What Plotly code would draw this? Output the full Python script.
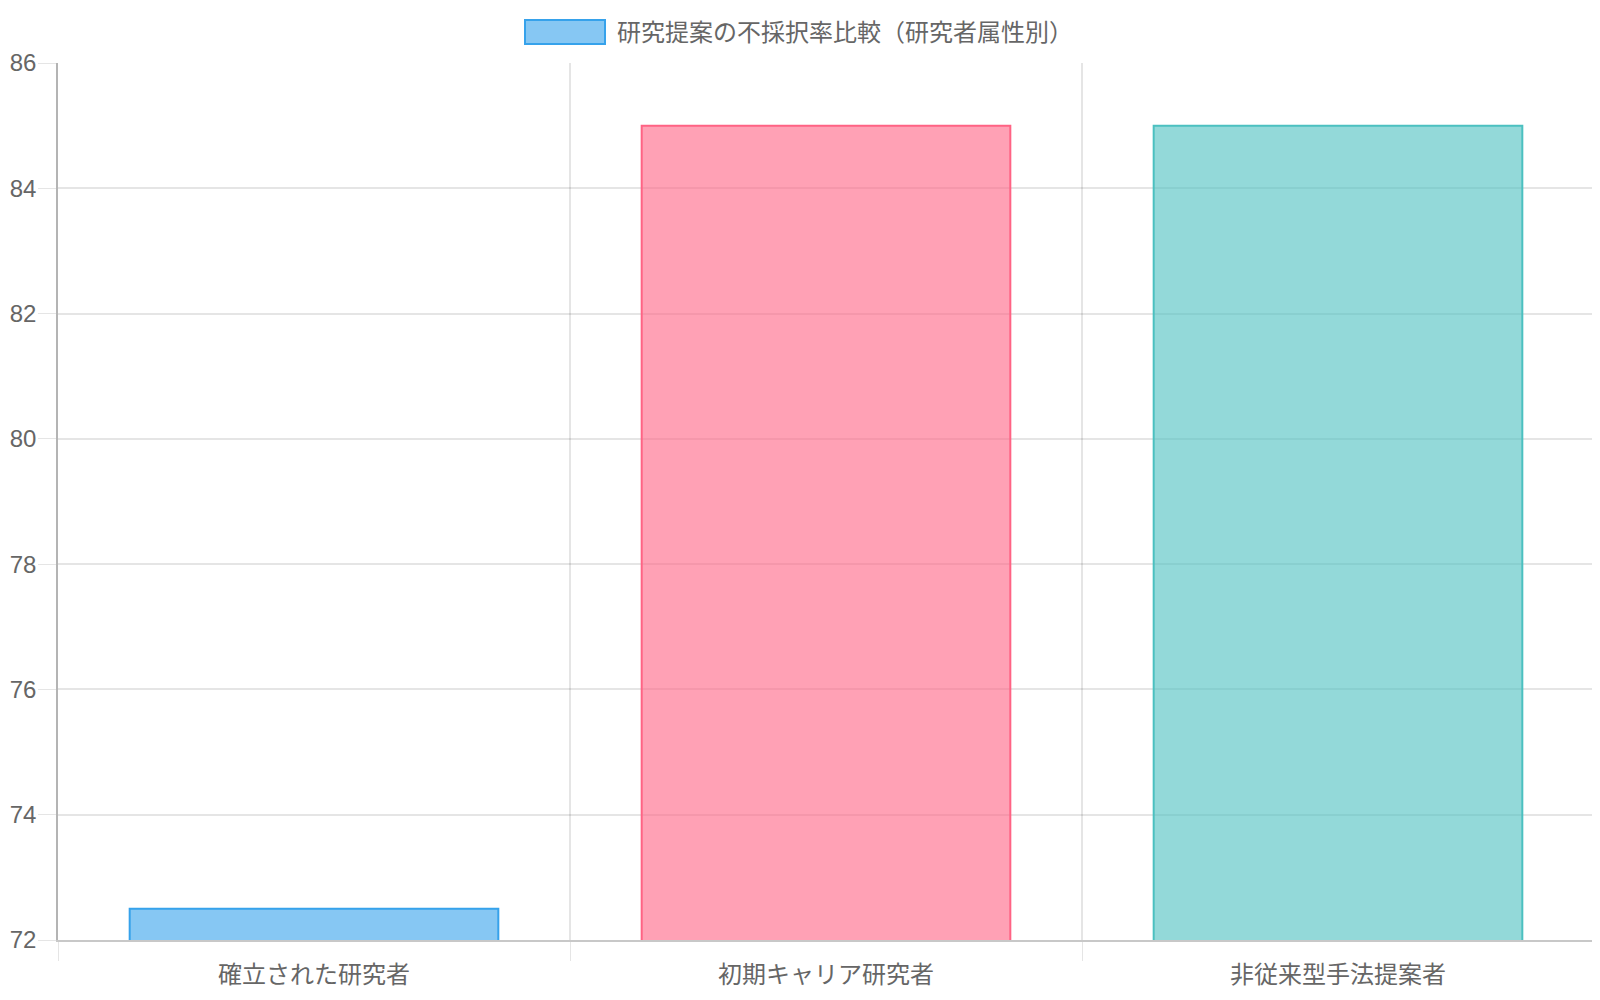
import plotly.graph_objects as go

categories = ["確立された研究者", "初期キャリア研究者", "非従来型手法提案者"]
rejection_rates = [72.5, 85, 85]
series_name = "研究提案の不採択率比較（研究者属性別）"
fill_colors = ["rgba(54,162,235,0.6)", "rgba(255,99,132,0.6)", "rgba(75,192,192,0.6)"]
line_colors = ["rgb(54,162,235)", "rgb(255,99,132)", "rgb(75,192,192)"]
y_ticks = [72, 74, 76, 78, 80, 82, 84, 86]

FONT = "Liberation Sans, Noto Sans CJK JP, sans-serif"
GRID = "rgba(0,0,0,0.1)"

# plot area in figure pixels (page body adds an 8px offset)
L, R, T, B = 50, 14, 55, 68
PW, PH = 1600 - L - R, 1000 - T - B

fig = go.Figure(
    go.Bar(
        x=categories,
        y=rejection_rates,
        base=0,
        width=0.72,
        marker=dict(color=fill_colors, line=dict(color=line_colors, width=2)),
        name=series_name,
        showlegend=False,
    )
)

# chart.js style legend: wide colour box + label above the plot
fig.add_shape(
    type="rect", xref="paper", yref="paper",
    x0=(517 - L) / PW, x1=(597 - L) / PW,
    y0=1 + (T - 36) / PH, y1=1 + (T - 12) / PH,
    fillcolor=fill_colors[0], line=dict(color=line_colors[0], width=2),
)
fig.add_annotation(
    text=series_name, xref="paper", yref="paper",
    x=(607 - L) / PW, y=1 + (T - 24) / PH,
    xanchor="left", yanchor="middle", showarrow=False,
    font=dict(family=FONT, size=24, color="#666"),
)

fig.update_layout(
    width=1600,
    height=1000,
    margin=dict(l=L, r=R, t=T, b=B),
    plot_bgcolor="white",
    paper_bgcolor="white",
    font=dict(family=FONT, size=24, color="#666"),
    bargap=0.28,
)
fig.update_xaxes(
    range=[-0.5, 2.5],
    automargin=False,
    tickson="boundaries",
    ticks="outside",
    ticklen=19,
    tickcolor=GRID,
    ticklabelstandoff=12,
    showgrid=True,
    gridcolor=GRID,
    gridwidth=1.5,
    showline=True,
    linecolor="#c8c8c8",
    linewidth=1.5,
    tickfont=dict(family=FONT, size=24, color="#666"),
)
fig.update_yaxes(
    range=[72, 86],
    automargin=False,
    tickvals=y_ticks,
    ticks="outside",
    ticklen=18,
    tickcolor=GRID,
    ticklabelstandoff=-3,
    showgrid=True,
    gridcolor=GRID,
    gridwidth=1.5,
    showline=True,
    linecolor="#b4b4b4",
    linewidth=1.5,
    zeroline=False,
    tickfont=dict(family=FONT, size=24, color="#666"),
)

fig.write_html("out.html")
